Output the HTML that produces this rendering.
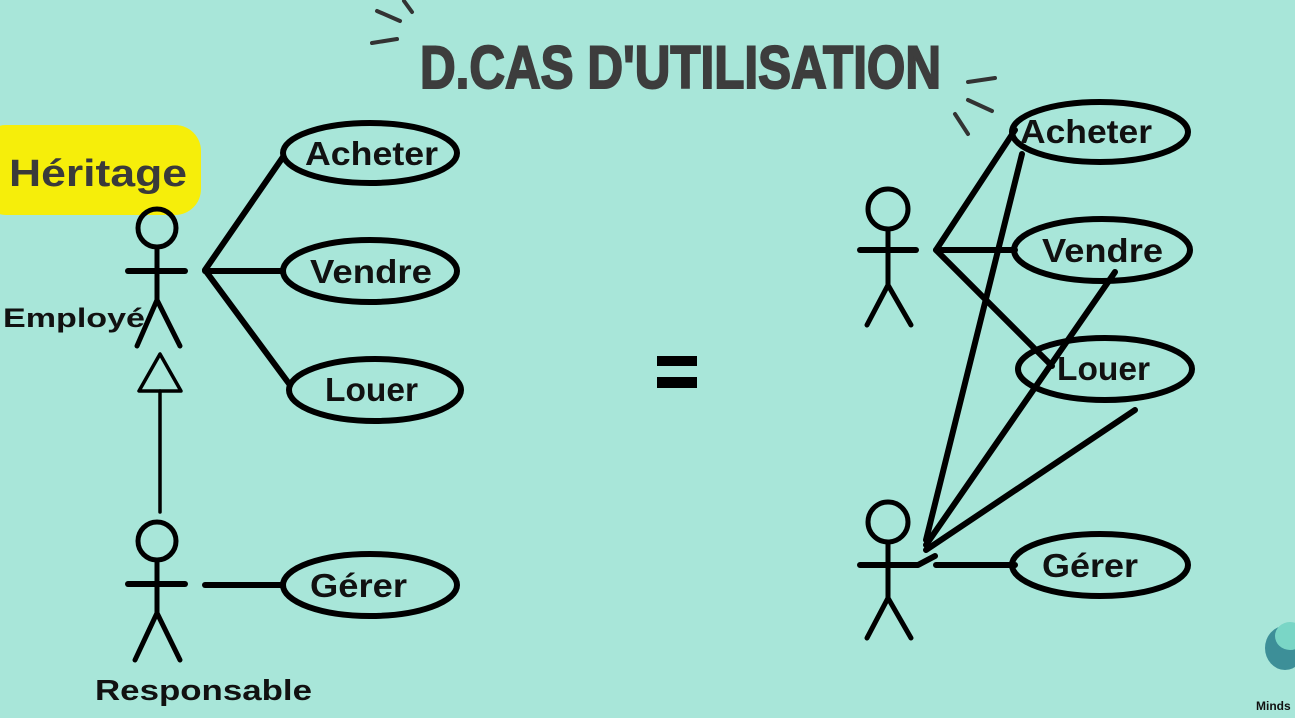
<!DOCTYPE html>
<html><head><meta charset="utf-8"><style>
html,body{margin:0;padding:0;background:#a8e6d9;}
svg{display:block}
text{font-family:"Liberation Sans",sans-serif;font-weight:bold}
</style></head><body>
<svg width="1295" height="718" viewBox="0 0 1295 718" xmlns="http://www.w3.org/2000/svg">
<rect width="1295" height="718" fill="#a8e6d9"/>
<text x="420" y="88" font-size="60" fill="#3d3d3d" stroke="#3d3d3d" stroke-width="2" textLength="521" lengthAdjust="spacingAndGlyphs">D.CAS D'UTILISATION</text>
<g stroke="#333" stroke-width="4" stroke-linecap="round">
<line x1="377" y1="11" x2="400" y2="21"/><line x1="404" y1="1" x2="412" y2="12"/><line x1="372" y1="43" x2="397" y2="39"/>
<line x1="968" y1="82" x2="995" y2="78"/><line x1="968" y1="100" x2="992" y2="111"/><line x1="955" y1="114" x2="968" y2="134"/>
</g>
<rect x="-20" y="125" width="221" height="90" rx="26" fill="#f6ee0a"/>
<text x="9" y="186" font-size="38" fill="#3a3a3a" textLength="178" lengthAdjust="spacingAndGlyphs">Héritage</text>
<text x="3" y="327" font-size="27" fill="#111" textLength="142" lengthAdjust="spacingAndGlyphs">Employé</text>
<text x="95" y="700" font-size="29" fill="#111" textLength="217" lengthAdjust="spacingAndGlyphs">Responsable</text>
<g stroke="#000" fill="none" stroke-linecap="round" stroke-linejoin="round">
<g stroke-width="5"><circle cx="157" cy="228" r="19"/><line x1="157" y1="247" x2="157" y2="300"/>
<line x1="157" y1="300" x2="137" y2="346"/><line x1="157" y1="300" x2="180" y2="346"/></g>
<line x1="128" y1="271" x2="185" y2="271" stroke-width="6"/>
<polygon points="160,354 139,391 181,391" stroke-width="3.5"/>
<line x1="160" y1="391" x2="160" y2="512" stroke-width="3.5"/>
<g stroke-width="5"><circle cx="157" cy="541" r="19"/><line x1="157" y1="560" x2="157" y2="613"/>
<line x1="157" y1="613" x2="135" y2="660"/><line x1="157" y1="613" x2="180" y2="660"/></g>
<line x1="128" y1="584" x2="185" y2="584" stroke-width="6"/>
<polyline points="283,157 205,270 290,385" stroke-width="6"/>
<line x1="205" y1="271" x2="283" y2="271" stroke-width="6"/>
<line x1="205" y1="585" x2="283" y2="585" stroke-width="6"/>
<g stroke-width="6">
<ellipse cx="370" cy="153" rx="87" ry="30"/>
<ellipse cx="370" cy="271" rx="87" ry="31"/>
<ellipse cx="375" cy="390" rx="86" ry="31"/>
<ellipse cx="370" cy="585" rx="87" ry="31"/>
</g>
<g stroke-width="5"><circle cx="888" cy="209" r="20"/><line x1="888" y1="229" x2="888" y2="285"/>
<line x1="888" y1="285" x2="867" y2="325"/><line x1="888" y1="285" x2="911" y2="325"/></g>
<line x1="860" y1="250" x2="916" y2="250" stroke-width="6"/>
<g stroke-width="5"><circle cx="888" cy="522" r="20"/><line x1="888" y1="542" x2="888" y2="598"/>
<line x1="888" y1="598" x2="867" y2="638"/><line x1="888" y1="598" x2="911" y2="638"/></g>
<polyline points="860,565 918,565 935,556" stroke-width="6"/>
<polyline points="1015,130 936,250 1052,366" stroke-width="6"/>
<line x1="936" y1="250" x2="1015" y2="250" stroke-width="6"/>
<line x1="1022" y1="154" x2="926" y2="540" stroke-width="6"/>
<line x1="1115" y1="272" x2="926" y2="545" stroke-width="6"/>
<line x1="1135" y1="410" x2="926" y2="550" stroke-width="6"/>
<line x1="936" y1="565" x2="1015" y2="565" stroke-width="6"/>
<g stroke-width="6">
<ellipse cx="1100" cy="132" rx="88" ry="30"/>
<ellipse cx="1102" cy="250" rx="88" ry="31"/>
<ellipse cx="1105" cy="369" rx="87" ry="31"/>
<ellipse cx="1100" cy="565" rx="88" ry="31"/>
</g>
</g>
<g font-size="33" fill="#111">
<text x="305" y="165" textLength="133" lengthAdjust="spacingAndGlyphs">Acheter</text>
<text x="310" y="283" textLength="122" lengthAdjust="spacingAndGlyphs">Vendre</text>
<text x="325" y="401" textLength="93" lengthAdjust="spacingAndGlyphs">Louer</text>
<text x="310" y="597" textLength="97" lengthAdjust="spacingAndGlyphs">Gérer</text>
<text x="1020" y="143" textLength="132" lengthAdjust="spacingAndGlyphs">Acheter</text>
<text x="1042" y="262" textLength="121" lengthAdjust="spacingAndGlyphs">Vendre</text>
<text x="1057" y="380" textLength="93" lengthAdjust="spacingAndGlyphs">Louer</text>
<text x="1042" y="577" textLength="96" lengthAdjust="spacingAndGlyphs">Gérer</text>
</g>
<rect x="657" y="356" width="40" height="10" fill="#000"/>
<rect x="657" y="377" width="40" height="11" fill="#000"/>
<ellipse cx="1285" cy="648" rx="20" ry="22" fill="#3d8f98"/>
<ellipse cx="1290" cy="636" rx="15" ry="14" fill="#7ad6c6"/>
<text x="1256" y="710" font-size="12" fill="#111">Minds</text>
</svg>
</body></html>
